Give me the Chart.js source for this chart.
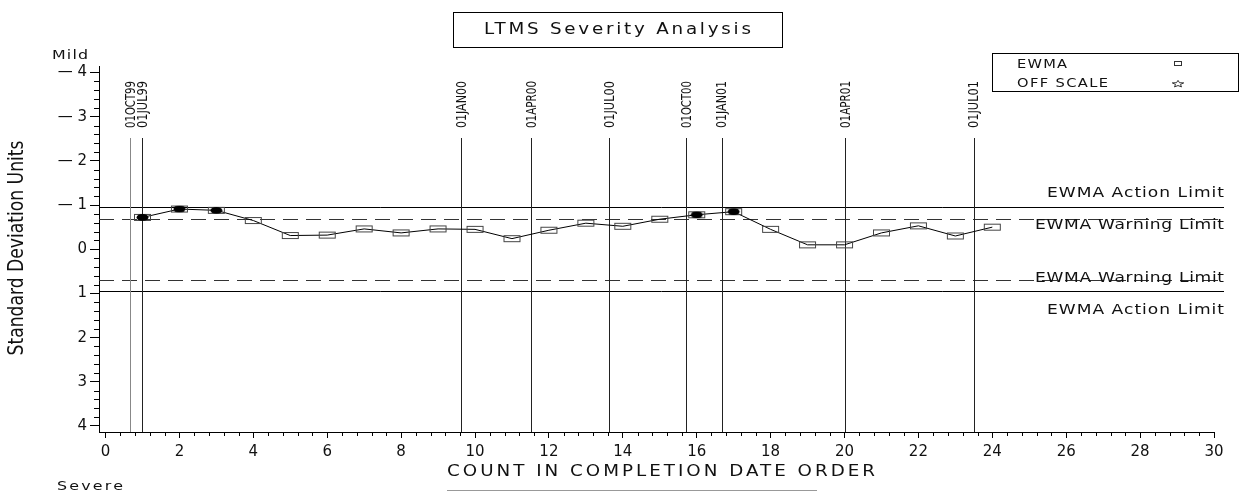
<!DOCTYPE html>
<html>
<head>
<meta charset="utf-8">
<script src="https://cdn.jsdelivr.net/npm/chart.js@4.4.0/dist/chart.umd.min.js"></script>
<style>
  html, body { margin: 0; padding: 0; background: #fff; }
</style>
</head>
<body>
<canvas id="sevChart" width="1245" height="494"></canvas>
<script>
// data
var counts = [1, 2, 3, 4, 5, 6, 7, 8, 9, 10, 11, 12, 13, 14, 15, 16, 17, 18, 19, 20, 21, 22, 23, 24];
var ewma = [-0.72, -0.91, -0.88, -0.65, -0.31, -0.32, -0.46, -0.37, -0.46, -0.45, -0.24, -0.43,
            -0.59, -0.52, -0.68, -0.78, -0.85, -0.45, -0.10, -0.10, -0.37, -0.53, -0.30, -0.50];
var dateLabels = ['01OCT99', '01JUL99', '01JAN00', '01APR00', '01JUL00', '01OCT00', '01JAN01', '01APR01', '01JUL01'];
var datePositions = [0.66, 1.0, 9.62, 11.52, 13.63, 15.71, 16.68, 20.01, 23.5];
var actionLimit = 0.95;
var warningLimit = 0.69;

// marker images: open rectangle, and rectangle with a filled dot (beyond warning limit)
function makeMarker(filled) {
  var c = document.createElement('canvas');
  c.width = 19; c.height = 9;
  var g = c.getContext('2d');
  g.strokeStyle = '#444';
  g.lineWidth = 1;
  g.strokeRect(1.5, 1.5, 16, 6);
  if (filled) {
    g.fillStyle = '#000';
    g.beginPath();
    g.ellipse(9.5, 4.5, 6, 3.5, 0, 0, Math.PI * 2);
    g.fill();
  }
  return c;
}
var openMark = makeMarker(false);
var fullMark = makeMarker(true);

// wide SAS-like lettering: stretch glyphs a bit, make up the rest with spacing
function wide(ctx, text, x, y, width, align) {
  ctx.letterSpacing = '0px';
  var w = ctx.measureText(text).width;
  var sx = Math.min(width / w, 1.22);
  var sp = text.length > 1 ? (width / sx - w) / (text.length - 1) : 0;
  var x0 = align === 'center' ? x - width / 2 : (align === 'right' ? x - width : x);
  ctx.save();
  ctx.translate(x0, y);
  ctx.scale(sx, 1);
  ctx.letterSpacing = sp + 'px';
  ctx.textAlign = 'left';
  ctx.fillText(text, 0, 0);
  ctx.restore();
  ctx.letterSpacing = '0px';
}

function rotatedSqueezed(ctx, text, x, y, length, align) {
  ctx.save();
  ctx.translate(x, y);
  ctx.rotate(-Math.PI / 2);
  var w = ctx.measureText(text).width;
  ctx.scale(length / w, 1);
  ctx.textAlign = align;
  ctx.fillText(text, 0, 0);
  ctx.restore();
}

var NARROW = '"Liberation Sans Narrow", "DejaVu Sans Condensed", "Roboto Condensed", sans-serif';

var sasPlugin = {
  id: 'sasDecor',
  beforeDatasetsDraw: function(chart) {
    var ctx = chart.ctx, a = chart.chartArea;
    var xs = chart.scales.x, ys = chart.scales.y;
    ctx.save();
    // limit lines
    ctx.lineWidth = 1;
    ctx.strokeStyle = '#000';
    [-actionLimit, actionLimit].forEach(function(v) {
      var py = Math.round(ys.getPixelForValue(v)) + 0.5;
      ctx.setLineDash([]);
      ctx.beginPath(); ctx.moveTo(a.left, py); ctx.lineTo(1224, py); ctx.stroke();
    });
    ctx.strokeStyle = '#333';
    [-warningLimit, warningLimit].forEach(function(v) {
      var py = Math.round(ys.getPixelForValue(v)) + 0.5;
      ctx.setLineDash([15, 8]);
      ctx.beginPath(); ctx.moveTo(a.left, py); ctx.lineTo(1224, py); ctx.stroke();
    });
    ctx.setLineDash([]);
    // date reference lines
    datePositions.forEach(function(v, i) {
      var px = Math.round(xs.getPixelForValue(v)) + 0.5;
      ctx.strokeStyle = i === 0 ? '#888' : '#222';
      ctx.beginPath(); ctx.moveTo(px, 138); ctx.lineTo(px, a.bottom); ctx.stroke();
    });
    ctx.restore();
  },
  afterDraw: function(chart) {
    var ctx = chart.ctx, a = chart.chartArea;
    var xs = chart.scales.x, ys = chart.scales.y;
    ctx.save();
    ctx.strokeStyle = '#000';
    ctx.lineWidth = 1;
    // minor ticks
    ctx.beginPath();
    for (var i = 0; i <= 75; i++) {
      if (i % 5 === 0) continue;
      var px = Math.round(xs.getPixelForValue(i * 0.4)) + 0.5;
      ctx.moveTo(px, a.bottom); ctx.lineTo(px, a.bottom + 4);
    }
    for (var j = -20; j <= 20; j++) {
      if (j % 5 === 0) continue;
      var py = Math.round(ys.getPixelForValue(j * 0.2)) + 0.5;
      ctx.moveTo(a.left - 5, py); ctx.lineTo(a.left, py);
    }
    ctx.stroke();

    ctx.fillStyle = '#111';
    ctx.textBaseline = 'middle';

    // date labels
    ctx.font = '14px ' + NARROW;
    datePositions.forEach(function(v, i) {
      var px = xs.getPixelForValue(v) + 1;
      rotatedSqueezed(ctx, dateLabels[i], px, 128, 47, 'left');
    });

    // y axis title
    ctx.font = '21px ' + NARROW;
    rotatedSqueezed(ctx, 'Standard Deviation Units', 18, 248, 215, 'center');

    // title box
    ctx.strokeRect(453.5, 12.5, 329, 35);
    ctx.font = '15px "DejaVu Sans"';
    wide(ctx, 'LTMS Severity Analysis', 617.5, 30, 267, 'center');

    // limit labels
    ctx.font = '14px "DejaVu Sans"';
    wide(ctx, 'EWMA Action Limit', 1224, ys.getPixelForValue(-actionLimit) - 14, 177, 'right');
    wide(ctx, 'EWMA Warning Limit', 1224, ys.getPixelForValue(-warningLimit) + 7, 189, 'right');
    wide(ctx, 'EWMA Warning Limit', 1224, ys.getPixelForValue(warningLimit) - 1, 189, 'right');
    wide(ctx, 'EWMA Action Limit', 1224, ys.getPixelForValue(actionLimit) + 19, 177, 'right');

    // Mild / Severe
    ctx.font = '13px "DejaVu Sans"';
    wide(ctx, 'Mild', 52, 56, 36, 'left');
    wide(ctx, 'Severe', 57, 487, 66, 'left');

    // x axis title
    ctx.font = '15px "DejaVu Sans"';
    wide(ctx, 'COUNT IN COMPLETION DATE ORDER', 661, 472, 428, 'center');
    ctx.strokeStyle = '#999';
    ctx.beginPath(); ctx.moveTo(447, 490.5); ctx.lineTo(817, 490.5); ctx.stroke();

    // legend
    ctx.strokeStyle = '#000';
    ctx.strokeRect(992.5, 53.5, 246, 38);
    ctx.font = '12px "DejaVu Sans"';
    wide(ctx, 'EWMA', 1017, 65, 50, 'left');
    wide(ctx, 'OFF SCALE', 1017, 84, 91, 'left');
    ctx.strokeStyle = '#333';
    ctx.strokeRect(1174.5, 61.5, 7, 4);
    // flattened star
    ctx.beginPath();
    var cx = 1178, cy = 84;
    for (var k = 0; k < 10; k++) {
      var ang = -Math.PI / 2 + k * Math.PI / 5;
      var r = k % 2 === 0 ? 6 : 2.6;
      var sx = cx + r * Math.cos(ang), sy = cy + r * Math.sin(ang) * 0.6;
      if (k === 0) ctx.moveTo(sx, sy); else ctx.lineTo(sx, sy);
    }
    ctx.closePath();
    ctx.stroke();

    ctx.restore();
  }
};

var points = counts.map(function(c, i) { return { x: c, y: ewma[i] }; });

new Chart(document.getElementById('sevChart'), {
  type: 'line',
  data: {
    datasets: [{
      label: 'EWMA',
      data: points,
      borderColor: '#000',
      borderWidth: 1,
      tension: 0,
      fill: false,
      pointRadius: 5,
      pointStyle: function(ctx) {
        var v = ctx.raw ? ctx.raw.y : 0;
        return Math.abs(v) > warningLimit ? fullMark : openMark;
      }
    }]
  },
  options: {
    responsive: false,
    animation: false,
    layout: { padding: { left: 0, top: 66, right: 31, bottom: 0 } },
    plugins: { legend: { display: false }, tooltip: { enabled: false } },
    scales: {
      x: {
        type: 'linear',
        min: -0.176,
        max: 30,
        ticks: {
          stepSize: 2, includeBounds: false, autoSkip: false, maxRotation: 0,
          color: '#111', padding: 5,
          font: { family: 'DejaVu Sans', size: 15 }
        },
        grid: { drawOnChartArea: false, tickLength: 6, color: '#000' },
        border: { color: '#000' },
        afterFit: function(s) { s.height = 62; s.paddingLeft = 0; s.paddingRight = 0; }
      },
      y: {
        type: 'linear',
        reverse: true,
        min: -4.147,
        max: 4.136,
        ticks: {
          stepSize: 1, includeBounds: false, autoSkip: false,
          color: '#111', padding: 3,
          font: { family: 'DejaVu Sans', size: 15 },
          callback: function(v) { return v < 0 ? '\u2014 ' + Math.abs(v) : String(v); }
        },
        grid: { drawOnChartArea: false, tickLength: 9, color: '#000' },
        border: { color: '#000' },
        afterFit: function(s) { s.width = 99; s.paddingTop = 0; s.paddingBottom = 0; }
      }
    }
  },
  plugins: [sasPlugin]
});
</script>
</body>
</html>
